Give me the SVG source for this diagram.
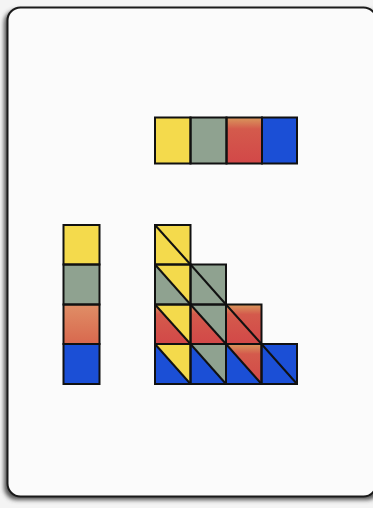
<svg xmlns="http://www.w3.org/2000/svg" width="373" height="508" viewBox="0 0 373 508">
  <defs>
    <filter id="shadow" x="-10%" y="-10%" width="120%" height="120%">
      <feGaussianBlur stdDeviation="2"/>
    </filter>
    <linearGradient id="redG" x1="0" y1="0" x2="0" y2="1">
      <stop offset="0" stop-color="#d9985c"/>
      <stop offset="0.25" stop-color="#d45a4c"/>
      <stop offset="1" stop-color="#d24848"/>
    </linearGradient>
    <linearGradient id="salmonG" x1="0" y1="0" x2="0" y2="1">
      <stop offset="0" stop-color="#e08e66"/>
      <stop offset="1" stop-color="#d8684e"/>
    </linearGradient>
  </defs>
  <style>
    .y { fill: #f4da4c; }
    .g { fill: #8fa290; }
    .r { fill: url(#redG); }
    .s { fill: url(#salmonG); }
    .b { fill: #1b4fd6; }
    .cell { fill: none; stroke: #111; stroke-width: 2; }
    .diag { stroke: #111; stroke-width: 2; fill: none; }
  </style>
  <rect width="373" height="508" fill="#f4f4f4"/>
  <g id="card">
    <rect x="4" y="10" width="376" height="490" rx="13" fill="#555" filter="url(#shadow)"/>
    <rect x="7.5" y="7.5" width="369" height="489" rx="13" fill="#fbfbfb" stroke="#1a1a1a" stroke-width="2"/>
  </g>
  <g id="top-row">
    <rect x="155" y="117.5" width="35.5" height="46" class="y"/>
    <rect x="190.5" y="117.5" width="36" height="46" class="g"/>
    <rect x="226.5" y="117.5" width="35.5" height="46" class="r"/>
    <rect x="262" y="117.5" width="35" height="46" class="b"/>
    <rect x="155" y="117.5" width="35.5" height="46" class="cell"/>
    <rect x="190.5" y="117.5" width="36" height="46" class="cell"/>
    <rect x="226.5" y="117.5" width="35.5" height="46" class="cell"/>
    <rect x="262" y="117.5" width="35" height="46" class="cell"/>
  </g>
  <g id="left-column">
    <rect x="63.5" y="225" width="36" height="39.5" class="y"/>
    <rect x="63.5" y="264.5" width="36" height="40" class="g"/>
    <rect x="63.5" y="304.5" width="36" height="39.5" class="s"/>
    <rect x="63.5" y="344" width="36" height="40" class="b"/>
    <rect x="63.5" y="225" width="36" height="39.5" class="cell"/>
    <rect x="63.5" y="264.5" width="36" height="40" class="cell"/>
    <rect x="63.5" y="304.5" width="36" height="39.5" class="cell"/>
    <rect x="63.5" y="344" width="36" height="40" class="cell"/>
  </g>
  <g id="staircase">
    <polygon points="155,225 190.5,225 190.5,264.5" class="y"/>
    <polygon points="155,225 155,264.5 190.5,264.5" class="y"/>
    <polygon points="155,264.5 190.5,264.5 190.5,304.5" class="y"/>
    <polygon points="155,264.5 155,304.5 190.5,304.5" class="g"/>
    <polygon points="155,304.5 190.5,304.5 190.5,344" class="y"/>
    <polygon points="155,304.5 155,344 190.5,344" class="r"/>
    <polygon points="155,344 190.5,344 190.5,384" class="y"/>
    <polygon points="155,344 155,384 190.5,384" class="b"/>
    <polygon points="190.5,264.5 226,264.5 226,304.5" class="g"/>
    <polygon points="190.5,264.5 190.5,304.5 226,304.5" class="g"/>
    <polygon points="190.5,304.5 226,304.5 226,344" class="g"/>
    <polygon points="190.5,304.5 190.5,344 226,344" class="r"/>
    <polygon points="190.5,344 226,344 226,384" class="g"/>
    <polygon points="190.5,344 190.5,384 226,384" class="b"/>
    <polygon points="226,304.5 261.5,304.5 261.5,344" class="r"/>
    <polygon points="226,304.5 226,344 261.5,344" class="r"/>
    <polygon points="226,344 261.5,344 261.5,384" class="r"/>
    <polygon points="226,344 226,384 261.5,384" class="b"/>
    <polygon points="261.5,344 297,344 297,384" class="b"/>
    <polygon points="261.5,344 261.5,384 297,384" class="b"/>
    <rect x="155" y="225" width="35.5" height="39.5" class="cell"/>
    <rect x="155" y="264.5" width="35.5" height="40" class="cell"/>
    <rect x="155" y="304.5" width="35.5" height="39.5" class="cell"/>
    <rect x="155" y="344" width="35.5" height="40" class="cell"/>
    <rect x="190.5" y="264.5" width="35.5" height="40" class="cell"/>
    <rect x="190.5" y="304.5" width="35.5" height="39.5" class="cell"/>
    <rect x="190.5" y="344" width="35.5" height="40" class="cell"/>
    <rect x="226" y="304.5" width="35.5" height="39.5" class="cell"/>
    <rect x="226" y="344" width="35.5" height="40" class="cell"/>
    <rect x="261.5" y="344" width="35.5" height="40" class="cell"/>
    <line x1="155" y1="225" x2="190.5" y2="264.5" class="diag"/>
    <line x1="155" y1="264.5" x2="190.5" y2="304.5" class="diag"/>
    <line x1="155" y1="304.5" x2="190.5" y2="344" class="diag"/>
    <line x1="155" y1="344" x2="190.5" y2="384" class="diag"/>
    <line x1="190.5" y1="264.5" x2="226" y2="304.5" class="diag"/>
    <line x1="190.5" y1="304.5" x2="226" y2="344" class="diag"/>
    <line x1="190.5" y1="344" x2="226" y2="384" class="diag"/>
    <line x1="226" y1="304.5" x2="261.5" y2="344" class="diag"/>
    <line x1="226" y1="344" x2="261.5" y2="384" class="diag"/>
    <line x1="261.5" y1="344" x2="297" y2="384" class="diag"/>
  </g>
</svg>
